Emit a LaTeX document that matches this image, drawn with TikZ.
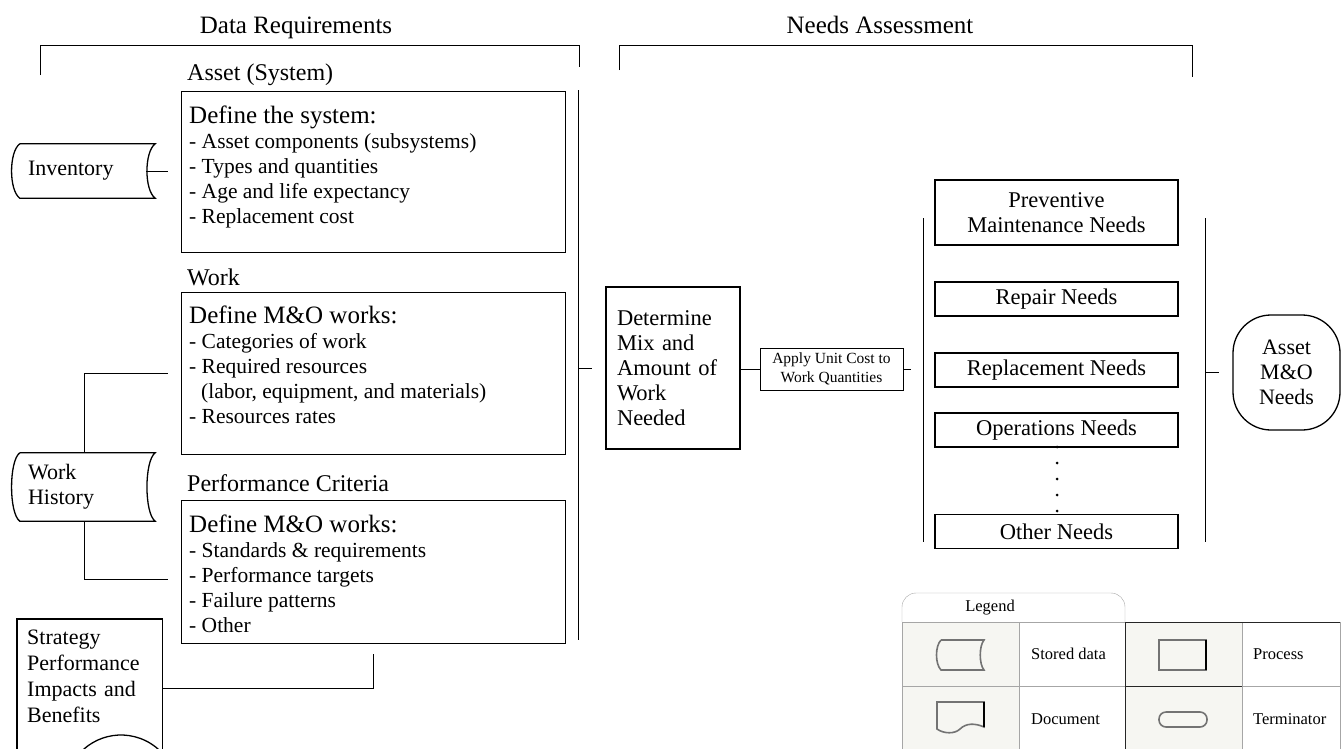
\documentclass[tikz,border=0pt]{standalone}
\usepackage{fontspec}
\setmainfont{Liberation Serif}
\definecolor{iconbg}{RGB}{246,246,242}
\newcommand{\hdfont}{\fontsize{25}{25}\selectfont}
\newcommand{\bdfont}{\fontsize{21.5}{25}\selectfont}
% outline of a stored data node
\newcommand{\storedpath}[1]{\draw[line width=1.3pt] ([xshift=7]#1.north west) -- (#1.north east)
  .. controls +(-11,8) and +(-11,-8) .. (#1.south east) -- ([xshift=7]#1.south west)
  .. controls +(-11,-8) and +(-11,8) .. ([xshift=7]#1.north west);}
\begin{document}
\begin{tikzpicture}[x=1pt,y=-1pt,
  title/.style={font=\fontsize{25}{25}\selectfont, inner sep=0pt, anchor=base},
  lbl/.style={font=\fontsize{24}{25}\selectfont, inner sep=0pt},
  proc/.style={draw, line width=1.3pt, inner sep=0pt},
  boxtext/.style={inner sep=0pt, align=left, font=\bdfont},
  need/.style={proc, minimum width=243, font=\fontsize{22.5}{25}\selectfont, align=center},
  stored/.style={minimum width=142, text width=112, inner xsep=15, align=left, font=\fontsize{22}{25}\selectfont},
  conn/.style={line width=0.8pt},
  legtext/.style={font=\fontsize{16.5}{18}\selectfont, inner sep=0pt}]
\useasboundingbox (0,0) rectangle (1343,748);
\clip (0,0) rectangle (1343,748);

% headers
\node[title] (dreq) at (296,33) {Data Requirements};
\node[title] (nass) at (880,33) {Needs Assessment};
\draw[conn] (40,75) |- (579,45) -- (579,67);
\draw[conn] (619,70) |- (1192,45) -- (1192,77);

% data requirements
\node[lbl, anchor=west] (assetlbl) at (187,75) {Asset (System)};
\node[proc, minimum width=384, minimum height=161, anchor=north west] (sysbox) at (181,91) {};
\node[boxtext, anchor=north west] (systext) at (189,106) {{\hdfont Define the system:}\\- Asset components (subsystems)\\- Types and quantities\\- Age and life expectancy\\- Replacement cost};

\node[lbl, anchor=west] (worklbl) at (187,277) {Work};
\node[proc, minimum width=384, minimum height=162, anchor=north west] (workbox) at (181,292) {};
\node[boxtext, anchor=north west] (worktext) at (189,306) {{\hdfont Define M\&O works:}\\- Categories of work\\- Required resources\\\hspace*{12pt}(labor, equipment, and materials)\\- Resources rates};

\node[lbl, anchor=west] (perflbl) at (187,483) {Performance Criteria};
\node[proc, minimum width=384, minimum height=143, anchor=north west] (perfbox) at (181,500) {};
\node[boxtext, anchor=north west] (perftext) at (189,515) {{\hdfont Define M\&O works:}\\- Standards \& requirements\\- Performance targets\\- Failure patterns\\- Other};

% stored data and document
\node[stored, minimum height=54] (inv) at (84,171) {Inventory};
\storedpath{inv}
\node[stored, minimum height=68] (hist) at (84,487) {Work\\History};
\storedpath{hist}
\node[anchor=north west, text width=125, inner xsep=10, inner ysep=11, align=left, font=\fontsize{22}{26}\selectfont] (strat) at (17,619) {Strategy\\Performance\\Impacts and\\Benefits};
\draw[line width=1.3pt] (strat.north west |- 0,790) -- (strat.north west) -- (strat.north east) -- (strat.north east |- 0,790);
\draw[line width=1.3pt] (121,791) ++(200:56) arc[start angle=200, end angle=340, radius=56];

\draw[conn, shorten <=-1, shorten >=13] ([xshift=-8]inv.east) -- (inv.east -| sysbox.west);
\draw[conn, shorten >=13] (hist.north) |- (workbox.west);
\draw[conn, shorten >=13] (hist.south) |- ([yshift=-7]perfbox.west);
\draw[conn, shorten <=10] (perfbox.south) |- (strat.east |- 0,688);

% process
\coordinate (lcTop) at (578,90);
\coordinate (lcBot) at (578,640);
\draw[conn] (lcTop) -- (lcBot);
\node[proc, minimum width=134, minimum height=162, text width=112, inner xsep=11, align=left, font=\fontsize{22.5}{25}\selectfont] (mix) at (673,368) {Determine\\Mix and\\Amount of\\Work\\Needed};
\node[proc, line width=0.9pt, minimum width=143, minimum height=42, align=center, font=\fontsize{15.5}{19}\selectfont] (cost) at (831.5,369) {Apply Unit Cost to\\Work Quantities};
\draw[conn, shorten >=13] (lcTop |- mix.west) -- (mix.west);
\draw[conn] (mix.east |- cost.west) -- (cost.west);

% needs
\coordinate (rcL1) at (923,218);
\coordinate (rcL2) at (923,542);
\coordinate (rcR1) at (1205,218);
\coordinate (rcR2) at (1205,542);
\draw[conn] (rcL1) -- (rcL2);
\draw[conn] (rcR1) -- (rcR2);
\node[need, minimum height=65] (prev) at (1056.5,212.5) {Preventive\\Maintenance Needs};
\node[need, minimum height=34] (rep) at (1056.5,299) {Repair Needs};
\node[need, minimum height=34] (repl) at (1056.5,370) {Replacement Needs};
\node[need, minimum height=34] (ops) at (1056.5,430) {Operations Needs};
\node[need, minimum height=34] (other) at (1056.5,531.5) {Other Needs};
\foreach \y in {447,463,479,495,511}
  \fill (1057,\y) circle (1.5);
\draw[conn, shorten >=12] (cost.east) -- (rcL1 |- cost.east);

\node[draw, line width=1.3pt, rounded corners=38, minimum width=107, minimum height=115, align=center, font=\fontsize{22}{25}\selectfont] (mo) at (1286.5,372.5) {Asset\\M\&O\\Needs};
\draw[conn, shorten >=13] (rcR1 |- mo.west) -- (mo.west);

% legend
\fill[iconbg] (902,622) rectangle (1019,750);
\fill[iconbg] (1125,622) rectangle (1242,750);
\draw[gray!70, rounded corners=14] (902,622) -- (902,593) -- (1125,593) -- (1125,622);
\node[legtext] (legtitle) at (990,608) {Legend};
\draw[gray!70] (902,622) -- (1125,622) (902,686) -- (1125,686) (902,622) -- (902,750) (1019,622) -- (1019,750) (1242,622) -- (1242,750) (1340,622) -- (1340,750);
\draw[black!85] (1125,622) -- (1340,622) (1125,686) -- (1242,686) (1125,622) -- (1125,750);
\draw[gray!70] (1242,686) -- (1340,686);
\node[legtext, anchor=west] (lsd) at (1031,654) {Stored data};
\node[legtext, anchor=west] (lpr) at (1253,654) {Process};
\node[legtext, anchor=west] (ldo) at (1031,719) {Document};
\node[legtext, anchor=west] (lte) at (1253,719) {Terminator};
\draw[black!55, line width=1.6pt] (941,640) -- (984,640) .. controls (979,646) and (979,664) .. (984,670) -- (941,670) .. controls (935,664) and (935,646) .. (941,640);
\draw[black!55, line width=1.6pt] (1159,640) rectangle (1206,670);
\draw[black, line width=1.6pt] (1206,640) -- (1206,670);
\draw[black!55, line width=1.6pt] (937,702) -- (984,702) -- (984,727) .. controls (975,723) and (966,723) .. (960,729) .. controls (955,734) and (944,734) .. (937,729) -- cycle;
\draw[black, line width=1.6pt] (984,702) -- (984,727);
\draw[black!55, line width=1.6pt, rounded corners=7] (1159,712) rectangle (1207,727);
\end{tikzpicture}
\end{document}
